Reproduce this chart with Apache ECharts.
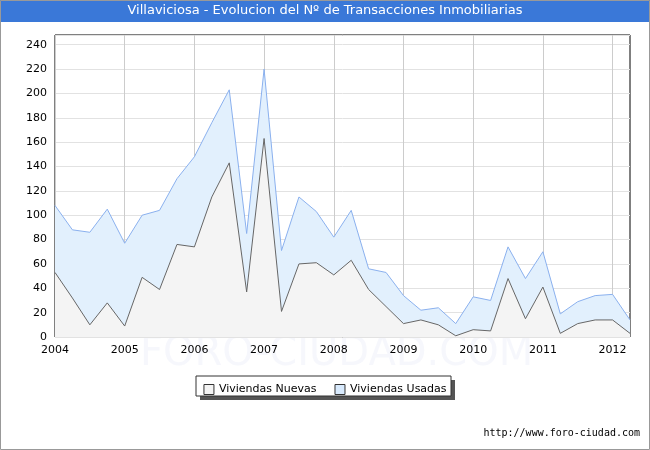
<!DOCTYPE html>
<html><head><meta charset="utf-8">
<script src="https://cdn.jsdelivr.net/npm/echarts@6/dist/echarts.min.js"></script>
<style>html,body{margin:0;padding:0;background:#fff}#c{width:650px;height:450px}</style>
</head><body><div id="c"></div>
<script>
const years = [2004,2005,2006,2007,2008,2009,2010,2011,2012];
const quarters = [];
years.forEach(y => { for (let q = 1; q <= 4; q++) quarters.push(y + 'T' + q); });
const categories = quarters.slice(0, 34);
const nuevas = [53,32,10,28,9,49,39,76,74,115,143,37,163,21,60,61,51,63,39,25,11,14,10,1,6,5,48,15,41,3,11,14,14,3];
const totales = [108,88,86,105,77,100,104,130,148,176,203,85,220,71,115,103,82,104,56,53,34,22,24,11,33,30,74,48,70,19,29,34,35,14];
const usadas = totales.map((t, i) => t - nuevas[i]);

const chart = echarts.init(document.getElementById('c'));
chart.setOption({
  animation: false,
  graphic: [
    {type:'rect', shape:{x:0,y:0,width:650,height:22}, style:{fill:'#3a78d8'}},
    {type:'text', left:'center', top:4, style:{text:'Villaviciosa - Evolucion del Nº de Transacciones Inmobiliarias', fill:'#fff', font:'13px "DejaVu Sans"'}},
    {type:'rect', shape:{x:0.5,y:0.5,width:649,height:449}, style:{fill:'none', stroke:'#999'}},
    {type:'text', left:140, top:335, z:-1, style:{text:'FORO-CIUDAD.COM', fill:'rgba(215,220,240,0.22)', font:'40px "DejaVu Sans"'}},
    {type:'rect', shape:{x:200,y:380,width:255,height:20}, style:{fill:'#555'}},
    {type:'rect', shape:{x:196,y:376,width:255,height:20}, style:{fill:'#fff', stroke:'#333'}},
    {type:'text', right:10, top:428, style:{text:'http://www.foro-ciudad.com', fill:'#000', font:'10px "DejaVu Sans Mono"'}}
  ],
  grid: {left:55, right:20, top:35, bottom:113, show:true, borderColor:'#000', borderWidth:1},
  legend: {
    top:379, left:'center', itemWidth:10, itemHeight:10, itemGap:18,
    textStyle:{fontFamily:'DejaVu Sans', fontSize:11, color:'#000'},
    data:[
      {name:'Viviendas Nuevas', icon:'rect', itemStyle:{color:'#f4f4f4', borderColor:'#333', borderWidth:1}},
      {name:'Viviendas Usadas', icon:'rect', itemStyle:{color:'#d8eafd', borderColor:'#333', borderWidth:1}}
    ]
  },
  xAxis: {
    type:'category', data:categories, boundaryGap:false,
    axisLine:{show:false}, axisTick:{show:false},
    axisLabel:{interval:3, formatter:v => v.slice(0,4), color:'#000', fontFamily:'DejaVu Sans', fontSize:11},
    splitLine:{show:true, interval:3, lineStyle:{color:'#ccc'}}
  },
  yAxis: {
    type:'value', min:0, max:248, interval:20,
    axisLine:{show:false}, axisTick:{show:false},
    axisLabel:{color:'#000', fontFamily:'DejaVu Sans', fontSize:11, formatter:v => (v % 20 === 0 && v <= 240) ? v : ''},
    splitLine:{lineStyle:{color:'#e2e2e2'}}
  },
  series: [
    {name:'Viviendas Nuevas', type:'line', stack:'t', data:nuevas, symbol:'none',
     lineStyle:{color:'#666', width:1}, itemStyle:{color:'#666'}, areaStyle:{color:'#f4f4f4', opacity:1}},
    {name:'Viviendas Usadas', type:'line', stack:'t', data:usadas, symbol:'none',
     lineStyle:{color:'#8ab0ee', width:1}, itemStyle:{color:'#8ab0ee'}, areaStyle:{color:'#e2f0fd', opacity:1}}
  ]
});
</script></body></html>
